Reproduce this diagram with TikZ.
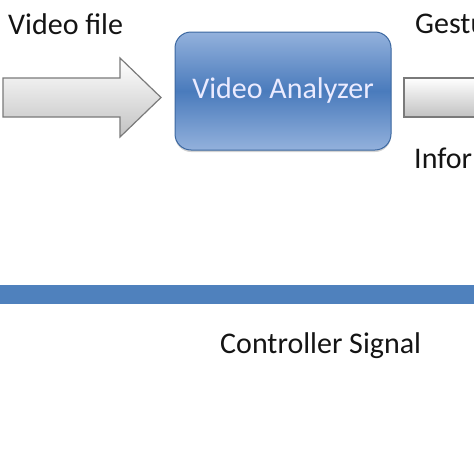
\documentclass[tikz,border=0pt]{standalone}
\usepackage{fontspec}
\setmainfont{Carlito}
\usetikzlibrary{shadows}
\definecolor{boxmid}{HTML}{4A7BBC}
\definecolor{boxlight}{HTML}{93B1DC}
\definecolor{boxedge}{HTML}{3B67A0}
\definecolor{barblue}{HTML}{4F81BD}
\definecolor{arrowedge}{HTML}{7A7A7A}
\definecolor{txt}{HTML}{141414}
\tikzset{
  lbl/.style={font=\fontsize{30}{33}\selectfont, text=txt, inner sep=0pt, anchor=base west},
  blockarrow/.style={draw=arrowedge, line width=1.2pt, top color=white, bottom color=black!24, line join=miter},
  analyzer/.style={rectangle, rounded corners=16pt, draw=boxedge, line width=1pt,
    top color=boxlight, bottom color=boxlight, middle color=boxmid,
    minimum width=216pt, minimum height=118pt, text=white!92!blue,
    font=\fontsize{30}{33}\selectfont},
}
\begin{document}
\begin{tikzpicture}[x=1pt,y=-1pt]
\useasboundingbox (0,0) rectangle (474,474);
\clip (0,0) rectangle (474,474);
% left block arrow
\draw[blockarrow] (3,78) -- (120,78) -- (120,58) -- (161,97.5) -- (120,137) -- (120,117) -- (3,117) -- cycle;
% right block arrow (clipped)
\draw[blockarrow] (404,78) -- (480,78) -- (480,117) -- (404,117) -- cycle;
% analyzer box
\node[analyzer, drop shadow={shadow xshift=0pt, shadow yshift=-2pt, opacity=0.35}] (va) at (283,91) {Video Analyzer};
% labels
\node[lbl] (vf) at (8,34) {Video file};
\node[lbl] (ge) at (415,33) {Gesture};
\node[lbl] (inf) at (414,168) {Information};
% bar
\fill[barblue] (0,285) rectangle (474,304);
\node[lbl] (cs) at (220,353) {Controller Signal};
\end{tikzpicture}
\end{document}
